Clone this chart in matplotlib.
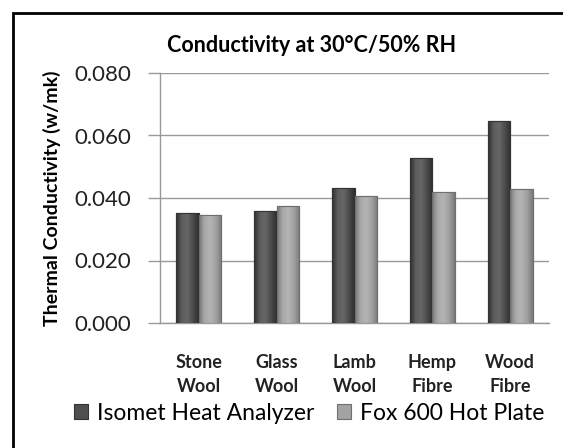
import matplotlib
matplotlib.use("Agg")
import matplotlib.pyplot as plt
import numpy as np
from matplotlib.patches import Rectangle
from matplotlib.colors import LinearSegmentedColormap

categories = ["Stone\nWool", "Glass\nWool", "Lamb\nWool", "Hemp\nFibre", "Wood\nFibre"]
isomet = [0.0353, 0.0357, 0.0431, 0.0529, 0.0645]
fox600 = [0.0345, 0.0373, 0.0406, 0.0418, 0.0428]
series_names = ["Isomet Heat Analyzer", "Fox 600 Hot Plate"]
yticks = [0.000, 0.020, 0.040, 0.060, 0.080]

plt.rcParams['font.family'] = ['Lato', 'DejaVu Sans']

W, H = 563, 448
fig = plt.figure(figsize=(W / 100, H / 100), dpi=100)
fig.patch.set_facecolor("white")

ax = fig.add_axes([160 / W, (H - 323) / H, (549 - 160) / W, (323 - 73) / H])

x = np.arange(len(categories))
bw = 0.29
cmap_dark = LinearSegmentedColormap.from_list("d", ["#2e2e2e", "#5e5e5e", "#666666", "#4a4a4a", "#2e2e2e"])
cmap_light = LinearSegmentedColormap.from_list("l", ["#7a7a7a", "#aaaaaa", "#b4b4b4", "#a0a0a0", "#7a7a7a"])

bars1 = ax.bar(x - bw / 2, isomet, bw, color="#4f4f4f", edgecolor="#333333", linewidth=0.8, zorder=3,
               label=series_names[0])
bars2 = ax.bar(x + bw / 2, fox600, bw, color="#a3a3a3", edgecolor="#6f6f6f", linewidth=0.8, zorder=3,
               label=series_names[1])

grad = np.linspace(0, 1, 64).reshape(1, -1)
for bars, cm in ((bars1, cmap_dark), (bars2, cmap_light)):
    for b in bars:
        x0, y0 = b.get_x(), b.get_y()
        w, h = b.get_width(), b.get_height()
        im = ax.imshow(grad, cmap=cm, extent=[x0, x0 + w, y0, y0 + h], aspect="auto", zorder=3.5,
                       interpolation="bicubic")
        im.set_clip_path(b)
        ax.add_patch(Rectangle((x0, y0), w, h, fill=False, edgecolor=b.get_edgecolor(),
                               linewidth=0.8, zorder=4))

ax.set_xlim(-0.5, 4.5)
ax.set_ylim(0, 0.08)
ax.set_yticks(yticks)
ax.set_yticklabels([f"{v:.3f}" for v in yticks], fontsize=16, color="#222222")
ax.set_xticks(x)
ax.set_xticklabels(categories, fontsize=13, fontweight="bold", color="#222222", linespacing=1.5)
ax.tick_params(axis="x", length=0, pad=22)
ax.tick_params(axis="y", length=9, width=1, color="#999999", pad=12)
ax.yaxis.grid(True, color="#999999", linewidth=1)
ax.set_axisbelow(True)
for s in ("top", "right"):
    ax.spines[s].set_visible(False)
for s in ("left", "bottom"):
    ax.spines[s].set_color("#999999")
    ax.spines[s].set_linewidth(1)

ax.set_ylabel("Thermal Conductivity (w/mk)", fontsize=14, fontweight="bold", labelpad=9)
fig.text(312 / W, 1 - 45 / H, "Conductivity at 30°C/50% RH", ha="center", va="center",
         fontsize=15.5, fontweight="bold")

leg = fig.legend(handles=[bars1, bars2], labels=series_names, loc="center",
                 bbox_to_anchor=(309 / W, 1 - 413 / H), ncol=2, frameon=False, fontsize=16.5,
                 handlelength=0.6, handleheight=0.6, handletextpad=0.4, columnspacing=1.0,
                 borderaxespad=0)

fig.add_artist(Rectangle((13 / W, -0.05), 1.2, 1 - 13 / H + 0.05, transform=fig.transFigure,
                         fill=False, edgecolor="black", linewidth=2))

fig.savefig("out.png", dpi=100)
